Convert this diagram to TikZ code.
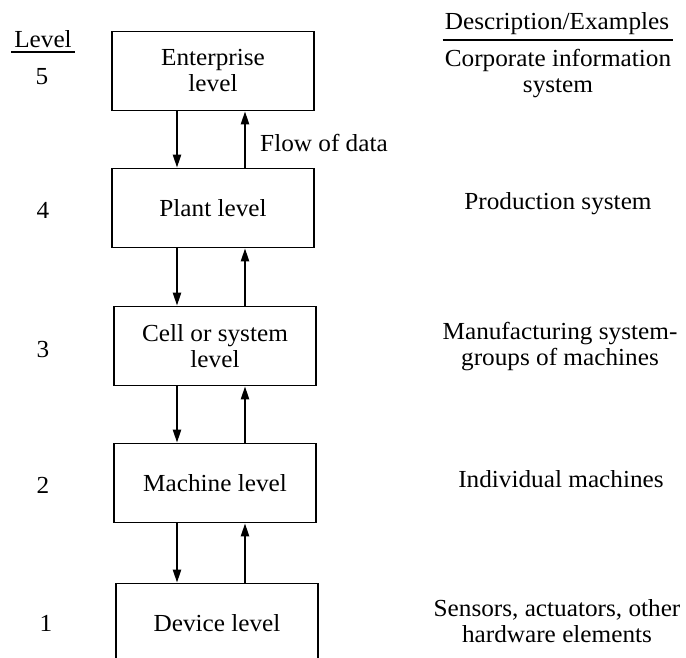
\documentclass[tikz,border=0pt]{standalone}
\usepackage{fontspec}
\setmainfont{Liberation Serif}[FakeStretch=1.03]
\usetikzlibrary{arrows.meta}
\newcommand\dgfont{\fontsize{24.5}{26}\selectfont}
\begin{document}
\begin{tikzpicture}[x=1pt,y=-1pt,
  levelbox/.style={draw, line width=1.6pt, minimum width=202pt, minimum height=79pt,
    align=center, inner sep=0pt, font=\dgfont},
  lbl/.style={inner sep=0pt, align=center, font=\dgfont},
  dataarrow/.style={line width=2.2pt, -{Triangle[length=13pt,width=8pt]}},
  rule/.style={line width=1.6pt}
]
\useasboundingbox (0,0) rectangle (686,658);
\clip (0,0) rectangle (686,658);

% boxes
\node[levelbox] (ent)   at (213,71)  {Enterprise\\level};
\node[levelbox] (plant) at (213,208) {Plant level};
\node[levelbox] (cell)  at (215,346) {Cell or system\\level};
\node[levelbox] (mach)  at (215,483) {Machine level};
\node[levelbox] (dev)   at (217,623) {Device level};

% arrow columns
\coordinate (dnx) at (177,0);
\coordinate (upx) at (245,0);

\draw[dataarrow] (ent.south -| dnx) -- (plant.north -| dnx);
\draw[dataarrow] (plant.north -| upx) -- (ent.south -| upx);
\draw[dataarrow] (plant.south -| dnx) -- (cell.north -| dnx);
\draw[dataarrow] (cell.north -| upx) -- (plant.south -| upx);
\draw[dataarrow] (cell.south -| dnx) -- (mach.north -| dnx);
\draw[dataarrow] (mach.north -| upx) -- (cell.south -| upx);
\draw[dataarrow] (mach.south -| dnx) -- (dev.north -| dnx);
\draw[dataarrow] (dev.north -| upx) -- (mach.south -| upx);

\node[lbl] (flow) at (324,143) {Flow of data};

% level column
\node[lbl, anchor=base] (lvh) at (43,48) {Level};
\draw[rule] ([xshift=-3pt,yshift=-4pt]lvh.base west) -- ([xshift=3pt,yshift=-4pt]lvh.base east);
\node[lbl] (l5) at (42,77)  {5};
\node[lbl] (l4) at (43,210) {4};
\node[lbl] (l3) at (43,350) {3};
\node[lbl] (l2) at (43,485) {2};
\node[lbl] (l1) at (46,623) {1};

% description column
\node[lbl, anchor=base] (dh) at (557,30) {Description/Examples};
\draw[rule] ([xshift=-2pt,yshift=-10pt]dh.base west) -- ([xshift=4pt,yshift=-10pt]dh.base east);
\node[lbl] (d5) at (558,74)  {Corporate information\\system};
\node[lbl] (d4) at (558,204) {Production system};
\node[lbl] (d3) at (560,347) {Manufacturing system-\\groups of machines};
\node[lbl] (d2) at (561,479) {Individual machines};
\node[lbl] (d1) at (557,621) {Sensors, actuators, other\\hardware elements};
\end{tikzpicture}
\end{document}
